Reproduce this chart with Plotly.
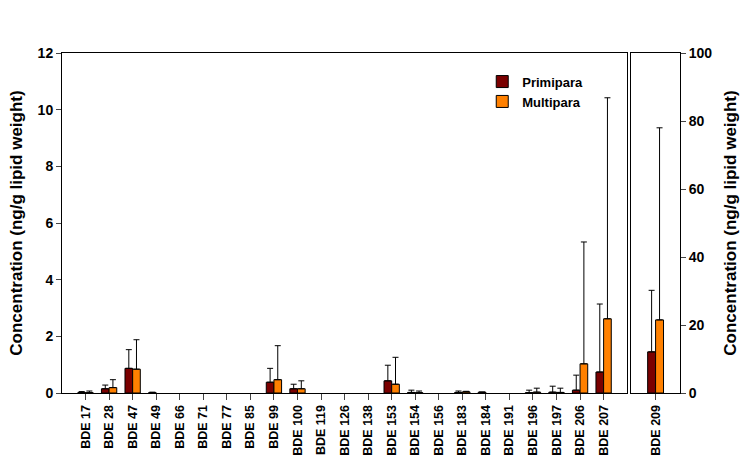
import plotly.graph_objects as go

# congeners in the left panel (0-12 scale) and the right panel (0-100 scale)
congeners = ["BDE 17", "BDE 28", "BDE 47", "BDE 49", "BDE 66", "BDE 71", "BDE 77",
             "BDE 85", "BDE 99", "BDE 100", "BDE 119", "BDE 126", "BDE 138",
             "BDE 153", "BDE 154", "BDE 156", "BDE 183", "BDE 184", "BDE 191",
             "BDE 196", "BDE 197", "BDE 206", "BDE 207"]
primi_mean = [0.02, 0.15, 0.87, 0.01, 0, 0, 0, 0, 0.38, 0.15, 0, 0, 0,
              0.43, 0.02, 0, 0.02, 0.03, 0, 0.01, 0.03, 0.10, 0.74]
primi_sd = [0.03, 0.13, 0.66, 0.02, 0, 0, 0, 0, 0.49, 0.16, 0, 0, 0,
            0.55, 0.08, 0, 0.05, 0, 0, 0.09, 0.21, 0.53, 2.40]
multi_mean = [0.01, 0.19, 0.84, 0, 0, 0, 0, 0, 0.47, 0.15, 0, 0, 0,
              0.31, 0.01, 0, 0.04, 0, 0, 0.03, 0.02, 1.03, 2.62]
multi_sd = [0.06, 0.28, 1.04, 0, 0, 0, 0, 0, 1.20, 0.28, 0, 0, 0,
            0.95, 0.06, 0, 0.02, 0, 0, 0.14, 0.15, 4.30, 7.80]

bde209 = ["BDE 209"]
primi_209 = [12.1]
primi_209_sd = [18.1]
multi_209 = [21.5]
multi_209_sd = [56.5]

PRIMI = "#7a0000"
MULTI = "#ff8000"
FONT = "Arial, Liberation Sans, sans-serif"


def nz(vals):
    # nothing is drawn for zero values
    return [v if v > 0 else None for v in vals]


def err(sd):
    # upper bar only
    return dict(type="data", array=nz(sd), arrayminus=[None] * len(sd), symmetric=False,
                color="black", thickness=1, width=3)


def bars(x, y, sd, name, color, xa, ya, legend):
    return go.Bar(x=x, y=nz(y), name=name, marker_color=color,
                  marker_line=dict(color="black", width=1), error_y=err(sd),
                  xaxis=xa, yaxis=ya, showlegend=legend)


fig = go.Figure()
fig.add_trace(bars(congeners, primi_mean, primi_sd, "Primipara", PRIMI, "x", "y", True))
fig.add_trace(bars(congeners, multi_mean, multi_sd, "Multipara", MULTI, "x", "y", True))
fig.add_trace(bars(bde209, primi_209, primi_209_sd, "Primipara", PRIMI, "x2", "y2", False))
fig.add_trace(bars(bde209, multi_209, multi_209_sd, "Multipara", MULTI, "x2", "y2", False))

ytitle = "Concentration (ng/g lipid weight)"
xtick_font = dict(family=FONT, size=12.5, color="black", weight="bold")
ytick_font = dict(family=FONT, size=14, color="black", weight="bold")
title_font = dict(family=FONT, size=17, color="black", weight="bold")

axis_common = dict(showline=True, linecolor="black", linewidth=1, mirror=True,
                   showgrid=False, zeroline=False)

fig.update_layout(
    width=748, height=475,
    margin=dict(l=62, r=66, t=53, b=82),
    plot_bgcolor="white", paper_bgcolor="white",
    barmode="group", bargap=0.35, bargroupgap=0,
    font=dict(family=FONT, color="black"),
    xaxis=dict(domain=[0, 0.9145], range=[-1, 23], ticks="outside", ticklen=6,
               tickangle=-90, tickfont=xtick_font, **axis_common),
    xaxis2=dict(domain=[0.921, 1], range=[-1, 1], ticks="outside", ticklen=6,
                tickangle=-90, anchor="y2", tickfont=xtick_font, **axis_common),
    yaxis=dict(range=[0, 12], dtick=2, ticks="outside", ticklen=5, tickfont=ytick_font,
               title=dict(text=ytitle, font=title_font, standoff=10), **axis_common),
    yaxis2=dict(range=[0, 100], dtick=20, ticks="outside", ticklen=5, side="right",
                anchor="x2", tickfont=ytick_font,
                title=dict(text=ytitle, font=title_font, standoff=12), **axis_common),
    legend=dict(x=0.68, y=0.96, xanchor="left", yanchor="top", bgcolor="rgba(0,0,0,0)",
                font=dict(family=FONT, size=13, color="black", weight="bold"),
                tracegroupgap=0, itemwidth=30),
)

# drop the default body margin so the figure fills the window exactly
fig.write_html("out.html", config={"displayModeBar": False},
               post_script="document.body.style.margin='0px';")
